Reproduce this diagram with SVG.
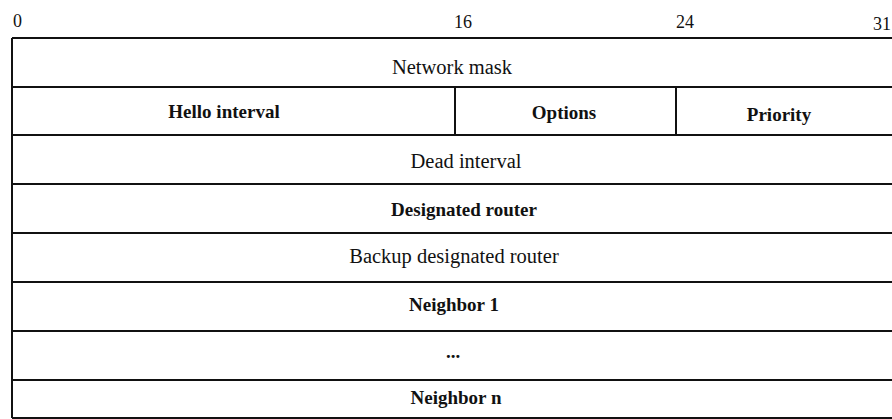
<svg xmlns="http://www.w3.org/2000/svg" width="892" height="419" viewBox="0 0 892 419">
<style>
.ln{stroke:#111;stroke-width:2;fill:none}
.t{font-family:"Liberation Serif","Times New Roman",serif;font-size:20.5px;fill:#111;text-anchor:middle}
.b{font-weight:bold;font-size:19px}
.n{font-family:"Liberation Serif","Times New Roman",serif;font-size:18px;fill:#111}
</style>
<rect width="892" height="419" fill="#fff"/>
<g id="ruler">
<text class="n" x="13" y="27">0</text>
<text class="n" x="454" y="28">16</text>
<text class="n" x="676" y="28">24</text>
<text class="n" x="873" y="30">31</text>
</g>
<g id="connectors">
<path class="ln" d="M12,38 H892 M12,87 H892 M12,135 H892 M12,184 H892 M12,233 H892 M12,282 H892 M12,331 H892 M12,380 H892 M12,418 H892"/>
<path class="ln" d="M12,38 V418 M455,87 V135 M676,87 V135"/>
</g>
<g id="network-mask"><text class="t" x="452" y="74">Network mask</text></g>
<g id="hello-interval"><text class="t b" x="224" y="118">Hello interval</text></g>
<g id="options"><text class="t b" x="564" y="119">Options</text></g>
<g id="priority"><text class="t b" x="779" y="121">Priority</text></g>
<g id="dead-interval"><text class="t" x="466" y="168">Dead interval</text></g>
<g id="designated-router"><text class="t b" x="464" y="216">Designated router</text></g>
<g id="backup-designated-router"><text class="t" x="454" y="263">Backup designated router</text></g>
<g id="neighbor-1"><text class="t b" x="454" y="311">Neighbor 1</text></g>
<g id="ellipsis"><text class="t b" x="453" y="358">...</text></g>
<g id="neighbor-n"><text class="t b" x="456" y="404">Neighbor n</text></g>
</svg>
